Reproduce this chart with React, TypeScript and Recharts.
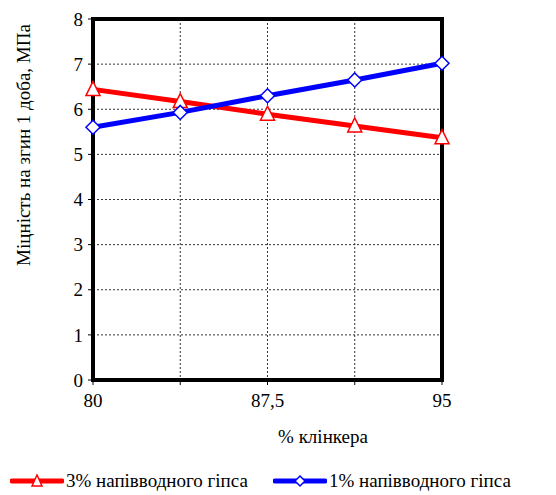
import React from 'react';
import { LineChart, Line, XAxis, YAxis, CartesianGrid, ReferenceArea, Label } from 'recharts';

const clinker = [80, 83.75, 87.5, 91.25, 95];
const xTickLabels = ['80', '', '87,5', '', '95'];
const gypsum3 = [6.44, 6.17, 5.89, 5.63, 5.37];
const gypsum1 = [5.6, 5.93, 6.3, 6.65, 7.02];
const yTicks = [0, 1, 2, 3, 4, 5, 6, 7, 8];

const name3 = '3% напівводного гіпса';
const name1 = '1% напівводного гіпса';
const yTitle = 'Міцність на згин 1 доба, МПа';
const xTitle = '% клінкера';

const data = clinker.map((x, i) => ({ x, g3: gypsum3[i], g1: gypsum1[i] }));

const FONT = 'Liberation Serif, DejaVu Serif, Times New Roman, serif';
const RED = '#FF0000';
const BLUE = '#0000FF';

const Triangle = (props: any) => {
  const { cx, cy, key } = props;
  if (cx == null || cy == null) return null;
  return (
    <polygon
      key={key}
      points={`${cx},${cy - 8} ${cx - 7},${cy + 6} ${cx + 7},${cy + 6}`}
      fill="#fff"
      stroke={RED}
      strokeWidth={1.5}
    />
  );
};

const Diamond = (props: any) => {
  const { cx, cy, key } = props;
  if (cx == null || cy == null) return null;
  return (
    <polygon
      key={key}
      points={`${cx},${cy - 7} ${cx + 7},${cy} ${cx},${cy + 7} ${cx - 7},${cy}`}
      fill="#fff"
      stroke={BLUE}
      strokeWidth={1.5}
    />
  );
};

function LegendRow() {
  const item = (color: string, marker: React.ReactNode, label: string, left: number) => (
    <div style={{ position: 'absolute', left, top: 470, display: 'flex', alignItems: 'center' }}>
      <svg width={54} height={16}>
        <line x1={2} y1={8} x2={52} y2={8} stroke={color} strokeWidth={5} strokeLinecap="round" />
        {marker}
      </svg>
      <span style={{ fontFamily: FONT, fontSize: 19, color: '#000', marginLeft: 2, whiteSpace: 'nowrap' }}>{label}</span>
    </div>
  );
  return (
    <>
      {item(RED, <polygon points="27,2 22,13 32,13" fill="#fff" stroke={RED} strokeWidth={1.5} />, name3, 10)}
      {item(BLUE, <polygon points="27,3 32,8 27,13 22,8" fill="#fff" stroke={BLUE} strokeWidth={1.5} />, name1, 273)}
    </>
  );
}

export default function App() {
  return (
    <div style={{ position: 'absolute', left: 0, top: 0, width: 556, height: 495, background: '#fff', fontFamily: FONT }}>
      <LineChart width={556} height={495} data={data} margin={{ top: 19, right: 114, bottom: 0, left: 0 }} style={{ fontFamily: FONT }}>
        <CartesianGrid stroke="#333" strokeDasharray="2 2" strokeWidth={1} />
        <XAxis
          dataKey="x"
          type="number"
          domain={[80, 95]}
          ticks={clinker}
          height={115}
          axisLine={false}
          tickLine={{ stroke: '#000' }}
          tickSize={5}
          tickMargin={9}
          tickFormatter={(v: number) => xTickLabels[clinker.indexOf(v)] ?? ''}
          tick={{ fill: '#000', fontSize: 19, fontFamily: FONT }}
        >
          <Label
            content={() => (
              <text x={323} y={443} textAnchor="middle" fill="#000" fontSize={19} style={{ fontFamily: FONT }}>
                {xTitle}
              </text>
            )}
          />
        </XAxis>
        <YAxis
          type="number"
          domain={[0, 8]}
          ticks={yTicks}
          width={93}
          axisLine={false}
          tickLine={{ stroke: '#000' }}
          tickSize={5}
          tickMargin={5}
          tick={{ fill: '#000', fontSize: 19, fontFamily: FONT }}
        >
          <Label
            content={() => (
              <text
                x={30}
                y={145}
                textAnchor="middle"
                fill="#000"
                fontSize={19}
                style={{ fontFamily: FONT }}
                transform="rotate(-90 30 145)"
              >
                {yTitle}
              </text>
            )}
          />
        </YAxis>
        <ReferenceArea x1={80} x2={95} y1={0} y2={8} fill="none" stroke="#000" strokeWidth={4} />
        <Line
          dataKey="g3"
          name={name3}
          stroke={RED}
          strokeWidth={5}
          dot={Triangle}
          activeDot={false}
          isAnimationActive={false}
        />
        <Line
          dataKey="g1"
          name={name1}
          stroke={BLUE}
          strokeWidth={5}
          dot={Diamond}
          activeDot={false}
          isAnimationActive={false}
        />
      </LineChart>
      <LegendRow />
    </div>
  );
}
